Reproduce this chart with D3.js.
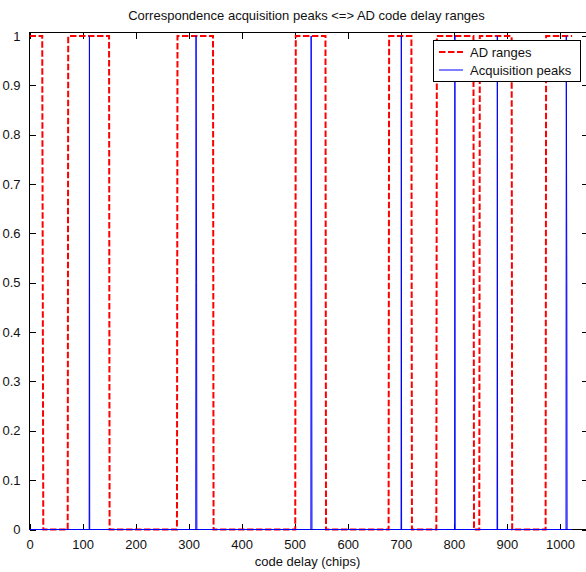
<!DOCTYPE html>
<html>
<head>
<meta charset="utf-8">
<script src="https://cdn.jsdelivr.net/npm/d3@7"></script>
<style>
  html, body { margin: 0; padding: 0; background: #fff; }
  svg { display: block; }
  text { font-family: "Liberation Sans", Arial, sans-serif; fill: #111; }
</style>
</head>
<body>
<svg id="chart" width="586" height="572"></svg>
<script>
// ---- Data ----
const titleText = "Correspondence acquisition peaks <=> AD code delay ranges";
const xLabelText = "code delay (chips)";
const legendLabels = ["AD ranges", "Acquisition peaks"];

// AD ranges (red dashed step line): breakpoints (code delay, value)
const adDelay = [0, 24, 26, 72, 73, 150, 151, 278, 279, 346, 347, 501, 502, 558, 559,
                 677, 678, 720, 721, 767, 768, 837, 838, 848, 849, 909, 910, 973, 974, 1023];
const adValue = [1, 1, 0, 0, 1, 1, 0, 0, 1, 1, 0, 0, 1, 1, 0,
                 0, 1, 1, 0, 0, 1, 1, 0, 0, 1, 1, 0, 0, 1, 1];

// Acquisition peaks (blue line): breakpoints (code delay, value)
const peakDelay = [0, 112.5, 113, 113.5, 313.5, 314, 315, 315.5, 530.5, 531, 532, 532.5,
                   700.5, 701, 701.5, 801.5, 802, 802.5, 881.5, 882, 882.5,
                   1011.5, 1012, 1013, 1013.5, 1023];
const peakValue = [0, 0, 1, 0, 0, 1, 0.5, 0, 0, 1, 0.5, 0,
                   0, 1, 0, 0, 1, 0, 0, 1, 0,
                   0, 1, 0.5, 0, 0];

const xTicks = [0, 100, 200, 300, 400, 500, 600, 700, 800, 900, 1000];
const yTicks = [0, 0.1, 0.2, 0.3, 0.4, 0.5, 0.6, 0.7, 0.8, 0.9, 1];
const xDomain = [0, 1052];
const yDomain = [0, 1.007];

// ---- Layout ----
const svg = d3.select("#chart");
const L = 29.5, R = 587.5, T = 32.5, B = 529.5;

const x = d3.scaleLinear().domain(xDomain).range([L, R]);
const y = d3.scaleLinear().domain(yDomain).range([B, T]);

const red = "#ff0000", blue = "#0000ff";
const fontSize = 13;

svg.append("clipPath").attr("id", "clip")
  .append("rect").attr("x", L).attr("y", T - 2).attr("width", R - L).attr("height", B - T + 4);

const line = d3.line().x(d => x(d[0])).y(d => y(d[1]));

const adData = adDelay.map((d, i) => [d, adValue[i]]);
const peakData = peakDelay.map((d, i) => [d, peakValue[i]]);

// Axes (MATLAB style box with inward ticks)
const tickLen = 6;
const axG = svg.append("g");

const xAxisB = d3.axisBottom(x).tickValues(xTicks).tickSize(-tickLen).tickPadding(tickLen + 4).tickFormat(d3.format("d"));
const xAxisT = d3.axisTop(x).tickValues(xTicks).tickSize(-tickLen).tickFormat("");
const yAxisL = d3.axisLeft(y).tickValues(yTicks).tickSize(-tickLen).tickPadding(tickLen + 3).tickFormat(d => String(+d.toFixed(1)));
const yAxisR = d3.axisRight(y).tickValues(yTicks).tickSize(-tickLen).tickFormat("");

function style(g) {
  g.select(".domain").remove();
  g.selectAll(".tick line").attr("stroke", "#000").attr("stroke-width", 1).attr("shape-rendering", "crispEdges");
  g.selectAll(".tick text").attr("font-size", fontSize + "px").attr("fill", "#111")
    .attr("font-family", '"Liberation Sans", Arial, sans-serif');
}

axG.append("g").attr("transform", `translate(0,${B})`).call(xAxisB).call(style);
axG.append("g").attr("transform", `translate(0,${T})`).call(xAxisT).call(style);
axG.append("g").attr("transform", `translate(${L},0)`).call(yAxisL).call(style);
axG.append("g").attr("transform", `translate(${R},0)`).call(yAxisR).call(style);

svg.append("rect").attr("x", L).attr("y", T).attr("width", R - L).attr("height", B - T)
  .attr("fill", "none").attr("stroke", "#000").attr("stroke-width", 1).attr("shape-rendering", "crispEdges");

const plot = svg.append("g").attr("clip-path", "url(#clip)");
plot.append("path").datum(adData)
  .attr("d", line)
  .attr("fill", "none").attr("stroke", red).attr("stroke-width", 2)
  .attr("stroke-dasharray", "6.5,2.5");

plot.append("path").datum(peakData)
  .attr("d", line)
  .attr("fill", "none").attr("stroke", blue).attr("stroke-width", 1);

// Title
svg.append("text")
  .attr("x", (L + R) / 2 - 2).attr("y", 20)
  .attr("text-anchor", "middle").attr("font-size", fontSize + "px")
  .text(titleText);

// X label
svg.append("text")
  .attr("x", (L + R) / 2 - 1).attr("y", 566)
  .attr("text-anchor", "middle").attr("font-size", fontSize + "px")
  .text(xLabelText);

// Legend
const lg = svg.append("g");
lg.append("rect").attr("x", 433.5).attr("y", 40.5).attr("width", 147).attr("height", 41)
  .attr("fill", "#fff").attr("stroke", "#000").attr("stroke-width", 1).attr("shape-rendering", "crispEdges");
const legendColors = [red, blue];
legendLabels.forEach((lab, i) => {
  const yy = 52 + i * 18;
  lg.append("line").attr("x1", 439).attr("x2", 463).attr("y1", yy).attr("y2", yy)
    .attr("stroke", legendColors[i]).attr("stroke-width", i === 0 ? 2 : 1)
    .attr("stroke-dasharray", i === 0 ? "6.5,2.5" : null);
  lg.append("text").attr("x", 470).attr("y", yy + 4.5).attr("font-size", fontSize + "px").text(lab);
});
</script>
</body>
</html>
